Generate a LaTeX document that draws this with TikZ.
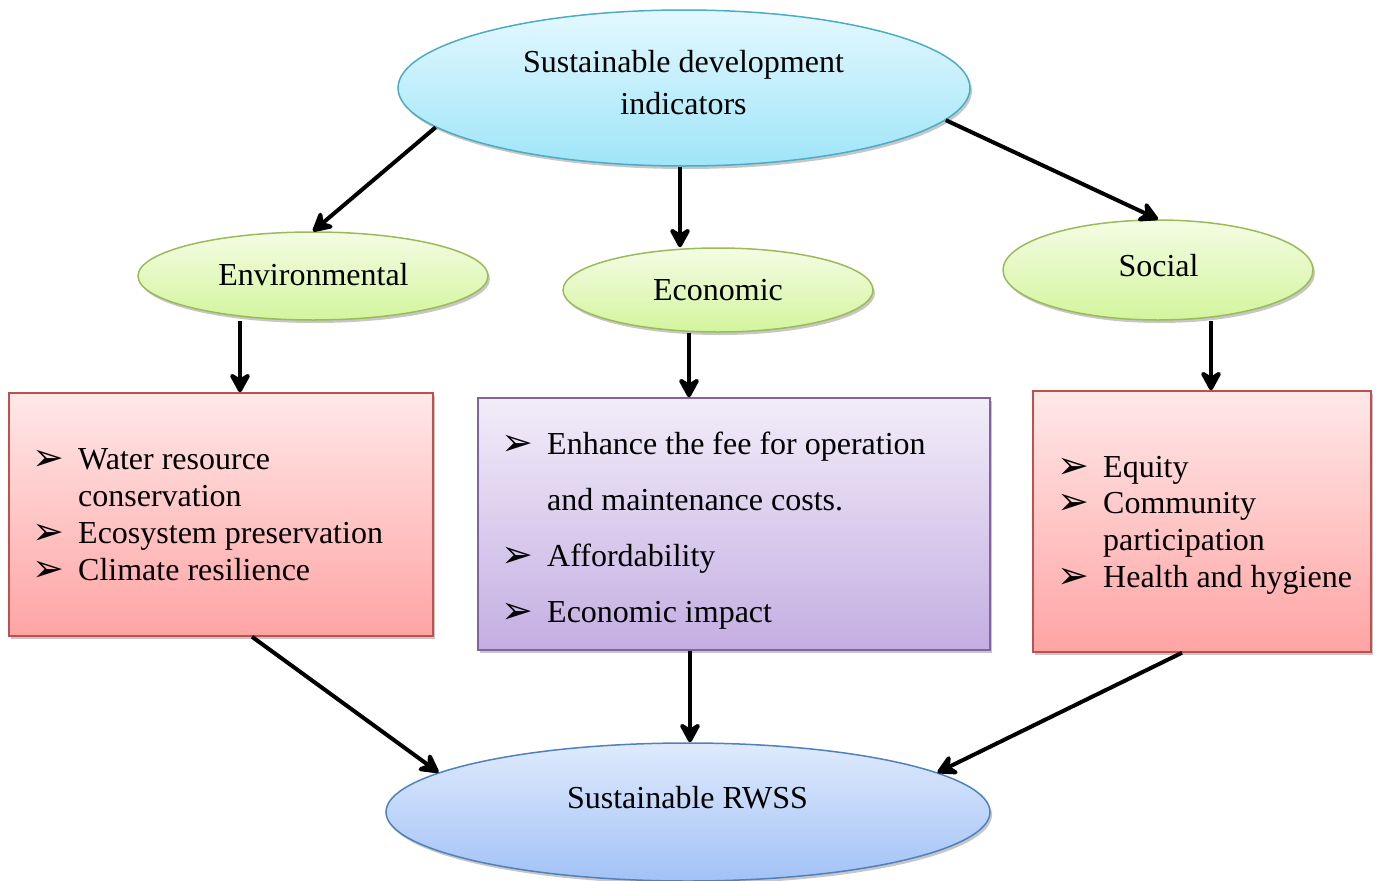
\documentclass[tikz,border=0pt]{standalone}
\usepackage{fontspec}
\setmainfont{Liberation Serif}
\newfontfamily\symfont{DejaVu Sans}
\usetikzlibrary{arrows.meta,shadows,shapes.geometric}

\definecolor{cyanTop}{HTML}{E4F8FE}
\definecolor{cyanBot}{HTML}{9FE5F9}
\definecolor{cyanLine}{HTML}{4BACC6}
\definecolor{greenTop}{HTML}{F4FCE4}
\definecolor{greenBot}{HTML}{D3F59D}
\definecolor{greenLine}{HTML}{9BBB59}
\definecolor{pinkTop}{HTML}{FFE8E8}
\definecolor{pinkBot}{HTML}{FFA4A4}
\definecolor{pinkLine}{HTML}{C0504D}
\definecolor{lilacTop}{HTML}{F2EDF9}
\definecolor{lilacBot}{HTML}{C4AEE2}
\definecolor{lilacLine}{HTML}{8064A2}
\definecolor{blueTop}{HTML}{DFEAFD}
\definecolor{blueBot}{HTML}{A2C2F6}
\definecolor{blueLine}{HTML}{4F81BD}

\newcommand\bulletmark{\makebox[46pt][l]{\symfont\fontsize{38}{38}\selectfont\raisebox{-1pt}{➢}}}
\newcommand\noitem{\hspace*{46pt}}

\tikzset{
  x=1pt, y=1pt,
  softshadow/.style={drop shadow={shadow xshift=2pt, shadow yshift=-3pt, opacity=0.22, fill=black}},
  oval/.style={ellipse, inner sep=0pt, line width=1.5pt, softshadow},
  panel/.style={rectangle, inner sep=0pt, line width=1.5pt, softshadow},
  lbl/.style={inner sep=0pt, anchor=base, font=\fontsize{32}{38}\selectfont},
  entry/.style={inner sep=0pt, anchor=base west, font=\fontsize{32}{37}\selectfont},
  arr/.style={line width=4pt, -{Stealth[length=24pt, width=26pt, inset=8pt, round]}},
}

\begin{document}
\begin{tikzpicture}
\useasboundingbox (0,0) rectangle (1377,-881);

% ellipses
\node[oval, minimum width=572pt, minimum height=156pt, draw=cyanLine,
      top color=cyanTop, bottom color=cyanBot] (top) at (684,-88) {};
\node[oval, minimum width=350pt, minimum height=88pt, draw=greenLine,
      top color=greenTop, bottom color=greenBot] (env) at (313,-276) {};
\node[oval, minimum width=310pt, minimum height=84pt, draw=greenLine,
      top color=greenTop, bottom color=greenBot] (econ) at (718,-290) {};
\node[oval, minimum width=310pt, minimum height=100pt, draw=greenLine,
      top color=greenTop, bottom color=greenBot] (soc) at (1158,-270) {};
\node[oval, minimum width=604pt, minimum height=138pt, draw=blueLine,
      top color=blueTop, bottom color=blueBot] (rwss) at (688,-812) {};

% boxes
\node[panel, minimum width=424pt, minimum height=243pt, draw=pinkLine,
      top color=pinkTop, bottom color=pinkBot] (envbox) at (221,-514.5) {};
\node[panel, minimum width=512pt, minimum height=252pt, draw=lilacLine,
      top color=lilacTop, bottom color=lilacBot] (econbox) at (734,-524) {};
\node[panel, minimum width=338pt, minimum height=261pt, draw=pinkLine,
      top color=pinkTop, bottom color=pinkBot] (socbox) at (1202,-521.5) {};

% titles
\node[lbl] (t1) at (683.5,-72) {Sustainable development};
\node[lbl] (t2) at (683.5,-114) {indicators};
\node[lbl] (t3) at (313.5,-285) {Environmental};
\node[lbl] (t4) at (718,-300) {Economic};
\node[lbl] (t5) at (1158.5,-276) {Social};
\node[lbl] (t6) at (687.5,-808) {Sustainable RWSS};

% environmental list
\node[entry] (e1) at (32,-469) {\bulletmark Water resource};
\node[entry] (e2) at (32,-506) {\noitem conservation};
\node[entry] (e3) at (32,-543) {\bulletmark Ecosystem preservation};
\node[entry] (e4) at (32,-580) {\bulletmark Climate resilience};

% economic list
\node[entry] (c1) at (501,-454) {\bulletmark Enhance the fee for operation};
\node[entry] (c2) at (501,-510) {\noitem and maintenance costs.};
\node[entry] (c3) at (501,-566) {\bulletmark Affordability};
\node[entry] (c4) at (501,-622) {\bulletmark Economic impact};

% social list
\node[entry] (s1) at (1057,-477) {\bulletmark Equity};
\node[entry] (s2) at (1057,-513) {\bulletmark Community};
\node[entry] (s3) at (1057,-550) {\noitem participation};
\node[entry] (s4) at (1057,-587) {\bulletmark Health and hygiene};

% connectors
\draw[arr] (top.189) -- (env.north);
\draw[arr] ([xshift=-4pt]top.south) -- ([xshift=-38pt]econ.north);
\draw[arr] (top.353) -- (soc.north);
\draw[arr] ([xshift=-73pt]env.south) -- ([xshift=19pt]envbox.north);
\draw[arr] ([xshift=-29pt]econ.south) -- ([xshift=-45pt]econbox.north);
\draw[arr] ([xshift=53pt]soc.south) -- ([xshift=9pt]socbox.north);
\draw[arr] ([xshift=31pt]envbox.south) -- (rwss.171);
\draw[arr] ([xshift=-44pt]econbox.south) -- ([xshift=2pt]rwss.north);
\draw[arr] ([xshift=-20pt]socbox.south) -- (rwss.9);
\end{tikzpicture}
\end{document}
